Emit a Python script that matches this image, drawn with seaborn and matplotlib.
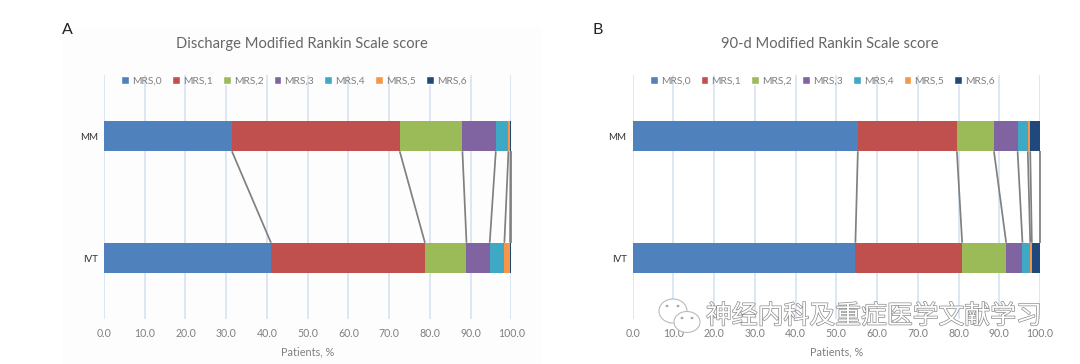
import numpy as np
import pandas as pd
import matplotlib
matplotlib.use("Agg")
import matplotlib.pyplot as plt
import matplotlib.patheffects as pe
from matplotlib.patches import Patch, Ellipse, Rectangle
import seaborn as sns

groups = ["MM", "IVT"]
series = ["MRS,0", "MRS,1", "MRS,2", "MRS,3", "MRS,4", "MRS,5", "MRS,6"]
colors = ["#4F81BD", "#C0504D", "#9BBB59", "#8064A2", "#3FA9C5", "#F79646", "#1F497D"]
ticks = [0, 10, 20, 30, 40, 50, 60, 70, 80, 90, 100]

discharge_mm = [31.4, 41.2, 15.4, 8.2, 3.1, 0.5, 0.2]
discharge_ivt = [41.0, 37.8, 10.2, 5.7, 3.6, 1.4, 0.3]
day90_mm = [55.3, 24.3, 9.1, 5.8, 2.5, 0.6, 2.4]
day90_ivt = [54.7, 26.2, 10.8, 4.0, 1.9, 0.4, 2.0]

title_a = "Discharge Modified Rankin Scale score"
title_b = "90-d Modified Rankin Scale score"
xlabel = "Patients, %"
watermark = "神经内科及重症医学文献学习"

sns.set_theme(style="white")
plt.rcParams["font.family"] = ["Lato", "Noto Sans CJK SC", "DejaVu Sans"]

W, H = 1080, 364
fig = plt.figure(figsize=(W / 100, H / 100), dpi=100, facecolor="white")


def px_axes(x0, x1, ytop, ybot):
    return fig.add_axes([x0 / W, 1 - ybot / H, (x1 - x0) / W, (ybot - ytop) / H])


def draw(ax, mm, ivt):
    ax.set_facecolor("none")
    cum = np.cumsum(np.array([mm, ivt]), axis=1)
    for v in ticks:
        ax.axvline(v, color="#D6E3F2", lw=1.2, zorder=0)
    # Stack by painting cumulative totals from the longest to the shortest
    for i in range(len(series) - 1, -1, -1):
        df = pd.DataFrame({"group": groups, "value": cum[:, i]})
        sns.barplot(data=df, x="value", y="group", order=groups, orient="h",
                    color=colors[i], saturation=1, width=0.25, ax=ax,
                    errorbar=None, zorder=2 + (len(series) - i) * 0.1, linewidth=0)
    for i in range(len(series)):
        ax.plot(cum[:, i], [0 + 0.125, 1 - 0.125], color="#808080", lw=1.25, zorder=3,
                solid_capstyle="butt", clip_on=False)
    ax.set_xlim(0, 100)
    ax.set_ylim(1.5, -0.5)
    ax.set_xticks(ticks)
    ax.set_xticklabels([f"{t:.1f}" for t in ticks], fontsize=7.6, color="#7F7F7F")
    ax.set_xlabel(xlabel, fontsize=7.8, color="#7F7F7F", labelpad=5)
    ax.set_ylabel("")
    ax.tick_params(axis="x", length=0, pad=6.5)
    ax.tick_params(axis="y", length=0, pad=4.3, labelsize=7.0, labelcolor="#333333")
    for s in ax.spines.values():
        s.set_visible(False)
    handles = [Patch(facecolor=c, label=s) for c, s in zip(colors, series)]
    leg = ax.legend(handles=handles, ncol=7, loc="upper center", bbox_to_anchor=(0.466, 1.016),
                    frameon=False, fontsize=7.4, handlelength=0.75, handleheight=0.75,
                    handletextpad=0.3, columnspacing=1.0, borderaxespad=0.1)
    for t in leg.get_texts():
        t.set_color("#7F7F7F")


fig.add_artist(Rectangle((62 / W, 0), 480 / W, 1 - 28 / H, transform=fig.transFigure,
                         facecolor="#FDFDFD", edgecolor="none", zorder=-5))

ax_a = px_axes(104, 511.3, 75, 319)
ax_b = px_axes(632.5, 1040, 75, 319)
draw(ax_a, discharge_mm, discharge_ivt)
draw(ax_b, day90_mm, day90_ivt)

fig.text(302 / W, 1 - 44 / H, title_a, ha="center", va="center", fontsize=10.6, color="#666666")
fig.text(830 / W, 1 - 44 / H, title_b, ha="center", va="center", fontsize=10.6, color="#666666")
fig.text(62 / W, 1 - 30 / H, "A", ha="left", va="center", fontsize=11.5, color="#222222")
fig.text(593 / W, 1 - 30 / H, "B", ha="left", va="center", fontsize=11.5, color="#222222")

# Watermark: outlined text and the two-bubble icon
wm = fig.text(706 / W, 1 - 316 / H, watermark, ha="left", va="center", fontsize=18.6,
              color="white", family=["Noto Sans CJK SC", "DejaVu Sans"], zorder=10)
wm.set_path_effects([pe.withStroke(linewidth=1.0, foreground="#8A8A8A")])
for cx, cy, w, h in [(673, 311, 28, 24), (687, 322, 26, 21)]:
    fig.add_artist(Ellipse((cx / W, 1 - cy / H), w / W, h / H, transform=fig.transFigure,
                           facecolor="white", edgecolor="#BBBBBB", lw=0.8, zorder=10))
for ex, ey in [(667, 306), (678, 306), (682, 318), (692, 318)]:
    fig.add_artist(Ellipse((ex / W, 1 - ey / H), 3 / W, 2.5 / H, transform=fig.transFigure,
                           facecolor="#AAAAAA", edgecolor="none", zorder=11))

fig.savefig("out.png", dpi=100)
